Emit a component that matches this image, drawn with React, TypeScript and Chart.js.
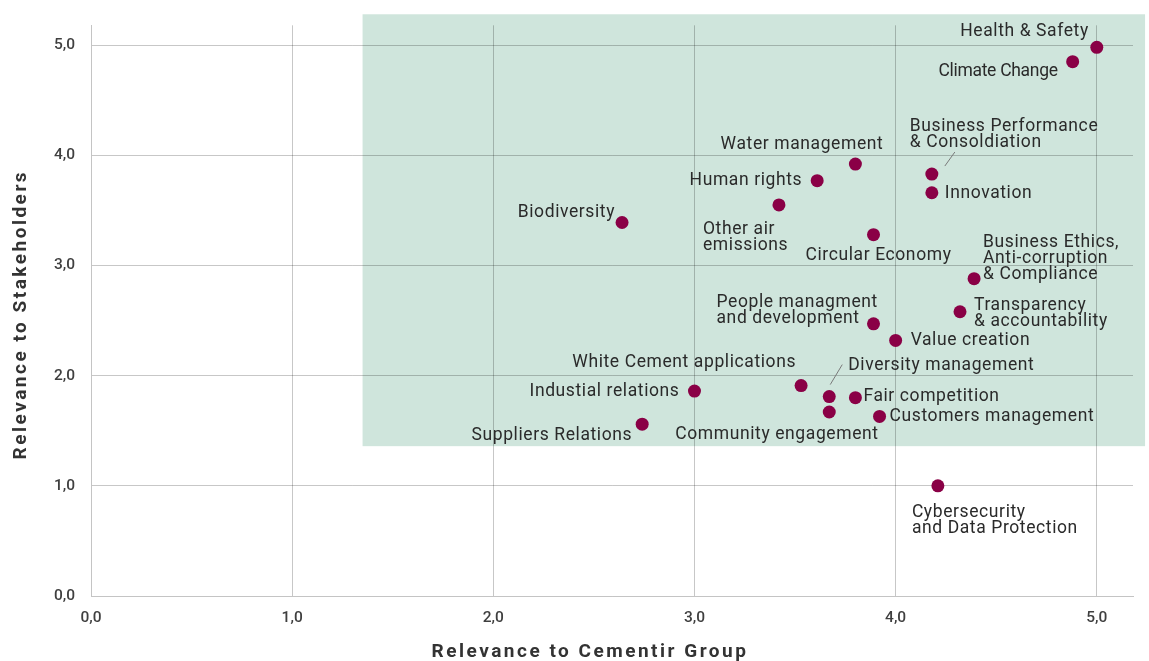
import React, { useEffect, useRef } from 'react';
import { Chart, registerables } from 'chart.js';

Chart.register(...registerables);

// ---------- data ----------
const topics: string[][] = [
  ['Health & Safety'],
  ['Climate Change'],
  ['Water management'],
  ['Business Performance', '& Consoldiation'],
  ['Innovation'],
  ['Human rights'],
  ['Other air', 'emissions'],
  ['Biodiversity'],
  ['Circular Economy'],
  ['Business Ethics,', 'Anti-corruption', '& Compliance'],
  ['Transparency', '& accountability'],
  ['People managment', 'and development'],
  ['Value creation'],
  ['White Cement applications'],
  ['Diversity management'],
  ['Industial relations'],
  ['Fair competition'],
  ['Community engagement'],
  ['Customers management'],
  ['Suppliers Relations'],
  ['Cybersecurity', 'and Data Protection'],
];

const groupRelevance: number[] = [
  5.0, 4.88, 3.8, 4.18, 4.18, 3.61, 3.42, 2.64, 3.89, 4.39, 4.32,
  3.89, 4.0, 3.53, 3.67, 3.0, 3.8, 3.67, 3.92, 2.74, 4.21,
];

const stakeholderRelevance: number[] = [
  4.98, 4.85, 3.92, 3.83, 3.66, 3.77, 3.55, 3.39, 3.28, 2.88, 2.58,
  2.47, 2.32, 1.91, 1.81, 1.86, 1.8, 1.67, 1.63, 1.56, 1.0,
];

const tickValues: number[] = [0, 1, 2, 3, 4, 5];
const xAxisTitle = 'Relevance to Cementir Group';
const yAxisTitle = 'Relevance to Stakeholders';

// highlighted (material) region, in data units
const highlightX: number[] = [1.35, 5.24];
const highlightY: number[] = [1.36, 5.28];

// ---------- label placement (styling, px offsets from point) ----------
type Place = { dx: number; dy: number; align: CanvasTextAlign; leader?: number[]; spacing?: string };
const labelPlacement: Place[] = [
  { dx: -8, dy: -17, align: 'right' },
  { dx: -15, dy: 8, align: 'right', spacing: '-0.3px' },
  { dx: 28, dy: -21, align: 'right' },
  { dx: -22, dy: -49, align: 'left', leader: [13, -8, 23, -22] },
  { dx: 13, dy: -1, align: 'left' },
  { dx: -15, dy: -2, align: 'right' },
  { dx: -76, dy: 23, align: 'left' },
  { dx: -7, dy: -11, align: 'right' },
  { dx: 5, dy: 19, align: 'center' },
  { dx: 9, dy: -38, align: 'left' },
  { dx: 14, dy: -8, align: 'left' },
  { dx: -157, dy: -23, align: 'left' },
  { dx: 15, dy: -1, align: 'left' },
  { dx: -5, dy: -24, align: 'right' },
  { dx: 19, dy: -32, align: 'left', leader: [1, -12, 13, -32] },
  { dx: -15, dy: -1, align: 'right' },
  { dx: 8, dy: -3, align: 'left' },
  { dx: -154, dy: 21, align: 'left' },
  { dx: 10, dy: -1, align: 'left' },
  { dx: -10, dy: 10, align: 'right' },
  { dx: -26, dy: 25, align: 'left' },
];

const FONT = 'Roboto, "DejaVu Sans", sans-serif';
const LABEL_SIZE = 17.5;
const LINE_H = 16.3;
const LABEL_SHIFT = 1.5;
const GRID = 'rgba(0,0,0,0.22)';

const fmt = (v: number) => v.toFixed(1).replace('.', ',');

const highlightPlugin = {
  id: 'highlightRegion',
  beforeDraw(chart: any) {
    const { ctx, scales } = chart;
    const xs = scales.x;
    const ys = scales.y;
    const x1 = xs.getPixelForValue(highlightX[0]);
    const x2 = xs.getPixelForValue(highlightX[1]);
    const y1 = ys.getPixelForValue(highlightY[1]);
    const y2 = ys.getPixelForValue(highlightY[0]);
    ctx.save();
    ctx.fillStyle = '#cfe5dc';
    ctx.fillRect(x1, y1, x2 - x1, y2 - y1);
    ctx.restore();
  },
};

const labelPlugin = {
  id: 'pointLabels',
  afterDatasetsDraw(chart: any) {
    const { ctx } = chart;
    const meta = chart.getDatasetMeta(0);
    ctx.save();
    ctx.font = `${LABEL_SIZE}px ${FONT}`;
    ctx.fillStyle = '#2a2a2a';
    ctx.textBaseline = 'middle';
    meta.data.forEach((el: any, i: number) => {
      const p = labelPlacement[i];
      const lines = topics[i];
      ctx.textAlign = p.align;
      (ctx as any).letterSpacing = p.spacing || '0.6px';
      lines.forEach((line, j) => {
        ctx.fillText(line, el.x + p.dx, el.y + p.dy + LABEL_SHIFT + j * LINE_H);
      });
      if (p.leader) {
        ctx.beginPath();
        ctx.strokeStyle = '#7a7a7a';
        ctx.lineWidth = 1;
        ctx.moveTo(el.x + p.leader[0], el.y + p.leader[1]);
        ctx.lineTo(el.x + p.leader[2], el.y + p.leader[3]);
        ctx.stroke();
      }
    });
    // axis titles
    const xs = chart.scales.x;
    const ys = chart.scales.y;
    ctx.font = `bold 19px ${FONT}`;
    (ctx as any).letterSpacing = '2.5px';
    ctx.fillStyle = '#333333';
    ctx.textAlign = 'center';
    ctx.textBaseline = 'middle';
    ctx.fillText(xAxisTitle, (xs.left + xs.right) / 2 - 22, 652);
    ctx.save();
    ctx.translate(21, (ys.top + ys.bottom) / 2 + 4);
    ctx.rotate(-Math.PI / 2);
    ctx.fillText(yAxisTitle, 0, 0);
    ctx.restore();
    ctx.restore();
  },
};

export default function App() {
  const ref = useRef<HTMLCanvasElement | null>(null);

  useEffect(() => {
    if (!ref.current) return;
    const data = groupRelevance.map((x, i) => ({ x, y: stakeholderRelevance[i] }));
    const tickFont = { family: FONT, size: 15.5, weight: '500' as any };
    const chart = new Chart(ref.current, {
      type: 'scatter',
      data: {
        datasets: [
          {
            label: 'Topics',
            data,
            pointRadius: 6.5,
            pointHoverRadius: 6.5,
            pointBackgroundColor: '#8a0046',
            pointBorderWidth: 0,
          },
        ],
      },
      options: {
        animation: false,
        responsive: false,
        devicePixelRatio: 1,
        layout: { padding: { top: 25, right: 16, left: 0, bottom: 0 } },
        plugins: {
          legend: { display: false },
          tooltip: { enabled: false },
        },
        scales: {
          x: {
            type: 'linear',
            min: 0,
            max: 5.18,
            afterFit: (s: any) => {
              s.height = 65;
            },
            afterBuildTicks: (s: any) => {
              s.ticks = tickValues.map((v) => ({ value: v }));
            },
            ticks: {
              includeBounds: false,
              padding: 13,
              color: '#3f3f3f',
              font: tickFont,
              callback: (v: any) => fmt(Number(v)),
            },
            grid: { color: GRID, drawTicks: false },
            border: { color: '#c4c4c4', width: 1 },
            title: { display: false, text: xAxisTitle },
          },
          y: {
            type: 'linear',
            min: 0,
            max: 5.18,
            afterFit: (s: any) => {
              s.width = 91;
            },
            afterBuildTicks: (s: any) => {
              s.ticks = tickValues.map((v) => ({ value: v }));
            },
            ticks: {
              includeBounds: false,
              padding: 16,
              color: '#3f3f3f',
              font: tickFont,
              callback: (v: any) => fmt(Number(v)),
            },
            grid: { color: GRID, drawTicks: false },
            border: { color: '#c4c4c4', width: 1 },
            title: { display: false, text: yAxisTitle },
          },
        },
      },
      plugins: [highlightPlugin, labelPlugin],
    });
    return () => chart.destroy();
  }, []);

  return (
    <div style={{ position: 'absolute', left: 0, top: 0, width: 1149, height: 661, background: '#ffffff' }}>
      <canvas ref={ref} width={1149} height={661} style={{ display: 'block' }} />
    </div>
  );
}
